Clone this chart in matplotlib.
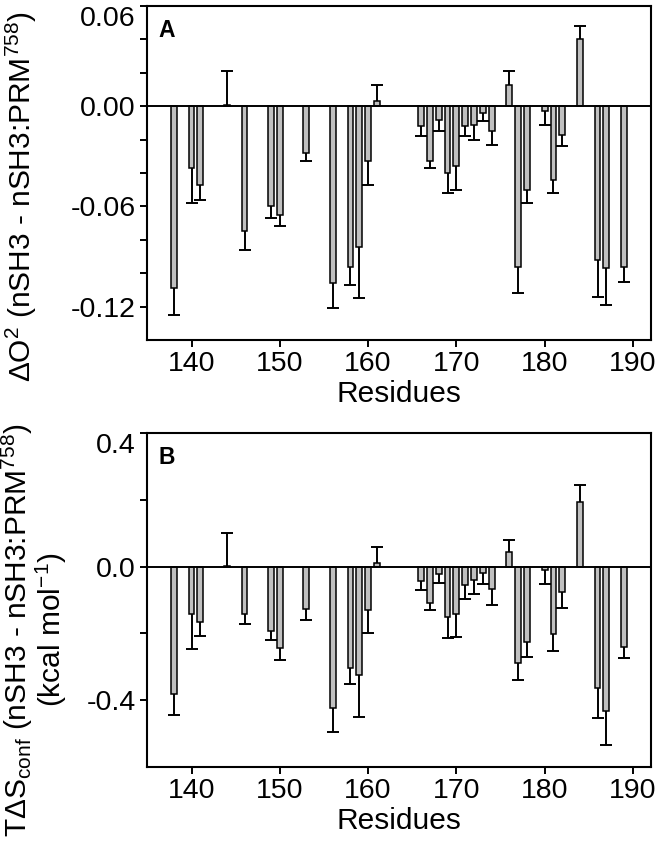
import numpy as np
import matplotlib
matplotlib.use("Agg")
import matplotlib.pyplot as plt

plt.rcParams['font.family'] = ['Liberation Sans', 'DejaVu Sans']
plt.rcParams['mathtext.fontset'] = 'custom'
plt.rcParams['mathtext.rm'] = 'Liberation Sans'
plt.rcParams['mathtext.it'] = 'Liberation Sans:italic'
plt.rcParams['mathtext.bf'] = 'Liberation Sans:bold'

residues = [138, 140, 141, 144, 146, 149, 150, 153, 156, 158, 159, 160, 161,
            166, 167, 168, 169, 170, 171, 172, 173, 174, 176, 177, 178, 180,
            181, 182, 184, 186, 187, 189]

dO2 = [-0.109, -0.037, -0.047, 0.001, -0.075, -0.060, -0.065, -0.028, -0.106,
       -0.096, -0.084, -0.033, 0.003, -0.012, -0.033, -0.008, -0.040, -0.036,
       -0.012, -0.011, -0.004, -0.015, 0.013, -0.096, -0.050, -0.003, -0.044,
       -0.017, 0.040, -0.092, -0.097, -0.096]
dO2_err = [0.016, 0.021, 0.009, 0.020, 0.011, 0.007, 0.007, 0.005, 0.015,
           0.011, 0.031, 0.014, 0.010, 0.006, 0.004, 0.007, 0.012, 0.014,
           0.006, 0.009, 0.005, 0.008, 0.008, 0.016, 0.008, 0.008, 0.008,
           0.007, 0.008, 0.022, 0.022, 0.009]

tds = [-0.380, -0.141, -0.167, 0.003, -0.143, -0.193, -0.243, -0.126, -0.423,
       -0.305, -0.325, -0.130, 0.010, -0.043, -0.110, -0.023, -0.151, -0.141,
       -0.055, -0.040, -0.018, -0.066, 0.044, -0.290, -0.225, -0.010, -0.201,
       -0.076, 0.192, -0.363, -0.433, -0.241]
tds_err = [0.063, 0.106, 0.041, 0.099, 0.029, 0.027, 0.037, 0.034, 0.073,
           0.045, 0.126, 0.068, 0.050, 0.028, 0.020, 0.027, 0.062, 0.070,
           0.041, 0.043, 0.035, 0.050, 0.035, 0.051, 0.046, 0.043, 0.052,
           0.047, 0.052, 0.090, 0.100, 0.032]

xticks = [140, 150, 160, 170, 180, 190]
ylab_A = r'$\Delta$O$^2$ (nSH3 - nSH3:PRM$^{758}$)'
ylab_B = 'T$\\Delta$S$_{\\mathrm{conf}}$ (nSH3 - nSH3:PRM$^{758}$)\n(kcal mol$^{-1}$)'

fig = plt.figure(figsize=(6.6, 8.41), dpi=100)
axA = fig.add_axes([0.2227, 0.5957, 0.7636, 0.3971])
axB = fig.add_axes([0.2227, 0.0880, 0.7636, 0.3971])


def draw(ax, vals, errs, ylim, yticks, ylabels, letter, ylabel, lab_x, lab_y):
    x = np.array(residues, dtype=float)
    v = np.array(vals)
    e = np.array(errs)
    ax.bar(x, v, width=0.66, color='#c0c0c0', edgecolor='black', linewidth=1.1, zorder=2)
    neg = v < 0
    pos = ~neg
    for mask, lower in ((neg, True), (pos, False)):
        z = np.zeros(mask.sum())
        yerr = [e[mask], z] if lower else [z, e[mask]]
        res = ax.errorbar(x[mask], v[mask], yerr=yerr, fmt='none', ecolor='black',
                          elinewidth=1.4, capsize=4.2, capthick=1.4, zorder=3)
        caps = res[1]
        caps[1 if lower else 0].set_visible(False)
    ax.axhline(0, color='black', linewidth=1.4, zorder=4)
    ax.set_xlim(134.95, 192.05)
    ax.set_ylim(*ylim)
    ax.set_xticks(xticks)
    ax.set_yticks(yticks)
    ax.set_yticklabels(ylabels)
    ax.tick_params(axis='both', direction='out', length=5, width=1.4, labelsize=20.5, pad=3)
    for s in ax.spines.values():
        s.set_linewidth(1.5)
    ax.set_xlabel('Residues', fontsize=21.5, labelpad=2)
    ax.set_ylabel(ylabel, fontsize=21.5, linespacing=0.95)
    ax.yaxis.set_label_coords(lab_x, lab_y)
    ax.text(0.022, 0.962, letter, transform=ax.transAxes, fontsize=16.5,
            fontweight='bold', ha='left', va='top')
    ax.get_yticklabels()[0].set_verticalalignment('top')


ytA = [0.06, 0.04, 0.02, 0.00, -0.02, -0.04, -0.06, -0.08, -0.10, -0.12]
ylA = ['0.06', '', '', '0.00', '', '', '-0.06', '', '', '-0.12']
draw(axA, dO2, dO2_err, (-0.14, 0.06), ytA, ylA, 'A', ylab_A, -0.215, 0.43)

ytB = [0.4, 0.2, 0.0, -0.2, -0.4]
ylB = ['0.4', '', '0.0', '', '-0.4']
draw(axB, tds, tds_err, (-0.6, 0.4), ytB, ylB, 'B', ylab_B, -0.155, 0.41)

fig.savefig('out.png', dpi=100)
